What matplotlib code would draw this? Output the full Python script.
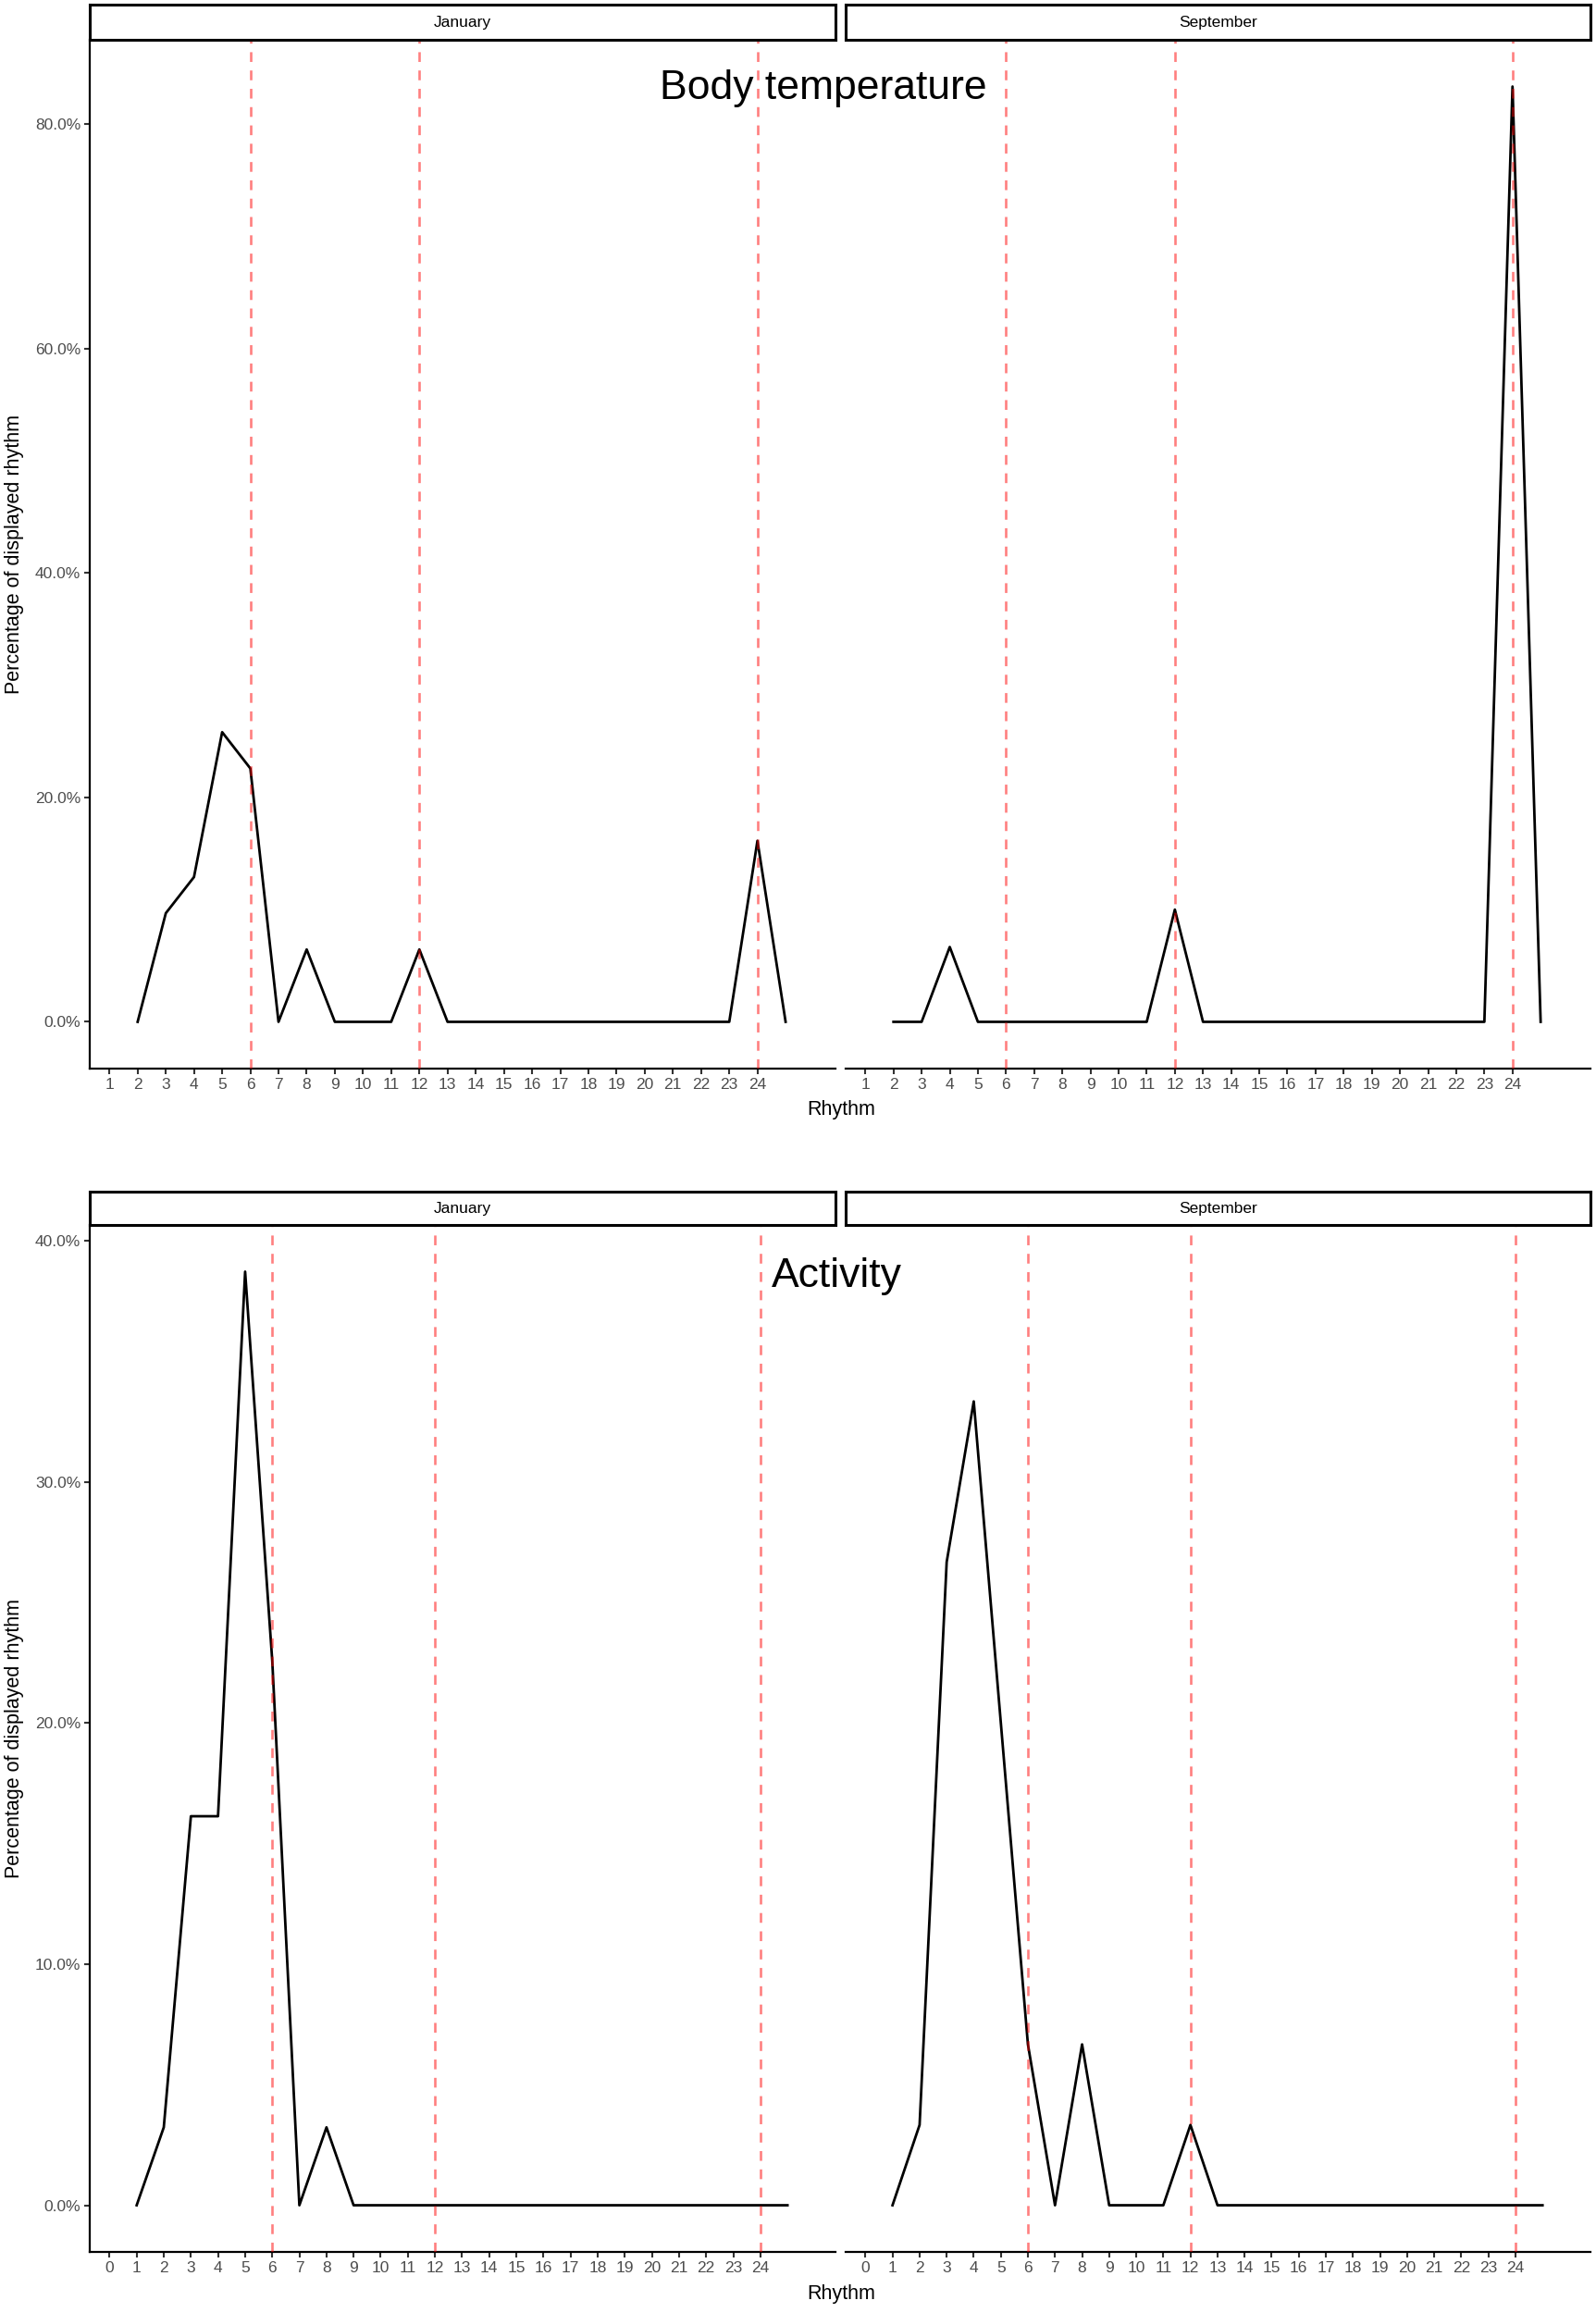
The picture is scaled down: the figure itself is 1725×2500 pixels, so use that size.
import matplotlib.pyplot as plt
from matplotlib.ticker import FuncFormatter

plt.rcParams['font.family'] = ['Liberation Sans Narrow', 'Liberation Sans', 'DejaVu Sans']

months = ["January", "September"]

# body temperature, rhythm positions 2..25 (percentage of animals)
rythmes_temp = list(range(2, 26))
temp_janvier = [0, 9.68, 12.90, 25.81, 22.58, 0, 6.45, 0, 0, 0, 6.45,
                0, 0, 0, 0, 0, 0, 0, 0, 0, 0, 0, 16.13, 0]
temp_septembre = [0, 0, 6.67, 0, 0, 0, 0, 0, 0, 0, 10.0,
                  0, 0, 0, 0, 0, 0, 0, 0, 0, 0, 0, 83.33, 0]

# activity, rhythm positions 1..25
rythmes_act = list(range(1, 26))
act_janvier = [0, 3.23, 16.13, 16.13, 38.71, 22.58, 0, 3.23,
               0, 0, 0, 0, 0, 0, 0, 0, 0, 0, 0, 0, 0, 0, 0, 0, 0]
act_septembre = [0, 3.33, 26.67, 33.33, 20.0, 6.67, 0, 6.67, 0, 0, 0, 3.33,
                 0, 0, 0, 0, 0, 0, 0, 0, 0, 0, 0, 0, 0]

ticks_temp = list(range(1, 25))
ticks_act = list(range(0, 25))
yticks_temp = [0, 20, 40, 60, 80]
yticks_act = [0, 10, 20, 30, 40]
lignes_rouges = [6, 12, 24]

W, H = 1725, 2500
fig = plt.figure(figsize=(W / 100, H / 100), dpi=100)


def rect(x0, y0, x1, y1):
    return [x0 / W, 1 - y1 / H, (x1 - x0) / W, (y1 - y0) / H]


lignes = [
    # title, x, series, xticks, yticks, xlim, strip top, panel top, panel bottom, title pos
    ("Body temperature", rythmes_temp, [temp_janvier, temp_septembre], ticks_temp, yticks_temp,
     (0.3, 26.77), 5, 43, 1155, (890, 96)),
    ("Activity", rythmes_act, [act_janvier, act_septembre], ticks_act, yticks_act,
     (-0.73, 26.77), 1288, 1324, 2434, (904, 1379)),
]
colonnes = [(97, 903), (914, 1719)]

for titre, x, series, xticks, yticks, xlim, s_top, p_top, p_bot, pos_titre in lignes:
    ymax = max(max(s) for s in series)
    for j, (x0, x1) in enumerate(colonnes):
        axe = fig.add_axes(rect(x0, p_top, x1, p_bot))
        axe.plot(x, series[j], color="black", lw=2.0, zorder=2)
        for v in lignes_rouges:
            axe.axvline(v, color="red", alpha=0.5, lw=1.9, linestyle=(0, (4, 3.5)), zorder=3)
        axe.set_xlim(*xlim)
        axe.set_ylim(-0.05 * ymax, 1.05 * ymax)
        axe.set_xticks(xticks)
        axe.set_xticklabels([str(t) for t in xticks])
        axe.set_yticks(yticks)
        axe.yaxis.set_major_formatter(FuncFormatter(lambda v, p: "%.1f%%" % v))
        for cote in ["top", "right"]:
            axe.spines[cote].set_visible(False)
        axe.spines["bottom"].set_linewidth(1.6)
        axe.spines["left"].set_linewidth(1.6)
        axe.tick_params(axis="both", length=4, width=1.5, color="#333333",
                        labelsize=12.5, labelcolor="#4D4D4D", pad=3)
        if j == 1:
            axe.spines["left"].set_visible(False)
            axe.tick_params(axis="y", left=False, labelleft=False)

        # strip
        bande = fig.add_axes(rect(x0, s_top, x1, p_top))
        bande.set_xticks([])
        bande.set_yticks([])
        for sp in bande.spines.values():
            sp.set_linewidth(2.2)
        bande.text(0.5, 0.5, months[j], ha="center", va="center", fontsize=12.5,
                   transform=bande.transAxes)

    fig.text(pos_titre[0] / W, 1 - pos_titre[1] / H, titre, ha="center", va="center", fontsize=32)
    fig.text(16 / W, 1 - (p_top + p_bot) / 2 / H, "Percentage of displayed rhythm",
             rotation=90, ha="center", va="center", fontsize=15.5)
    fig.text(909 / W, 1 - (p_bot + 45) / H, "Rhythm", ha="center", va="center", fontsize=15.5)

fig.savefig("out.png", dpi=100, facecolor="white")
